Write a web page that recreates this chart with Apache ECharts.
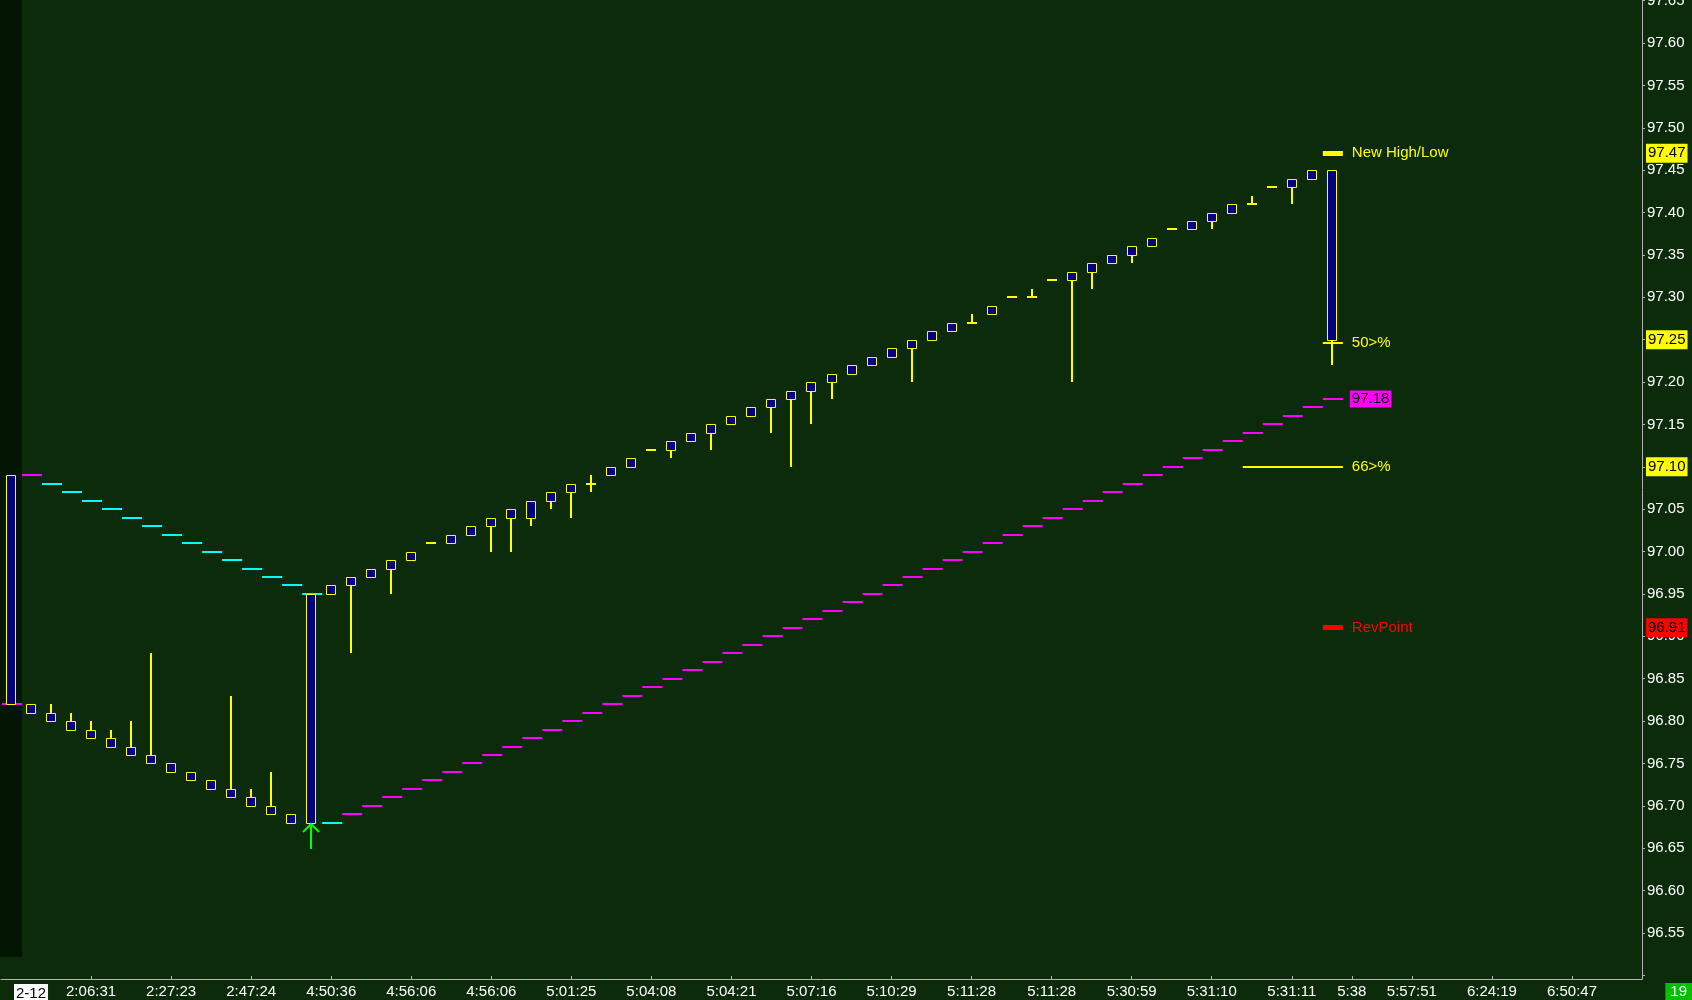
<!DOCTYPE html>
<html>
<head>
<meta charset="utf-8">
<script src="https://cdn.jsdelivr.net/npm/echarts@6/dist/echarts.min.js"></script>
<style>
html,body{margin:0;padding:0;background:#0b2b0b;overflow:hidden}
#chart{width:1692px;height:1000px}
</style>
</head>
<body>
<div id="chart"></div>
<script>
// ---------------- data ----------------
const opens = [97.09,96.82,96.81,96.80,96.79,96.78,96.77,96.76,96.75,96.74,96.73,96.72,96.71,96.70,96.69,96.68,
  96.95,96.96,96.97,96.98,96.99,97.01,97.01,97.02,97.03,97.04,97.04,97.06,97.07,97.08,97.09,97.10,97.12,97.12,
  97.13,97.14,97.15,97.16,97.17,97.18,97.19,97.20,97.21,97.22,97.23,97.24,97.25,97.26,97.27,97.28,97.30,97.30,
  97.32,97.32,97.33,97.34,97.35,97.36,97.38,97.38,97.39,97.40,97.41,97.43,97.43,97.44,97.45];
const closes = [96.82,96.81,96.80,96.79,96.78,96.77,96.76,96.75,96.74,96.73,96.72,96.71,96.70,96.69,96.68,96.95,
  96.96,96.97,96.98,96.99,97.00,97.01,97.02,97.03,97.04,97.05,97.06,97.07,97.08,97.08,97.10,97.11,97.12,97.13,
  97.14,97.15,97.16,97.17,97.18,97.19,97.20,97.21,97.22,97.23,97.24,97.25,97.26,97.27,97.27,97.29,97.30,97.30,
  97.32,97.33,97.34,97.35,97.36,97.37,97.38,97.39,97.40,97.41,97.41,97.43,97.44,97.45,97.25];
const lows = [96.82,96.81,96.80,96.79,96.78,96.77,96.76,96.75,96.74,96.73,96.72,96.71,96.70,96.69,96.68,96.68,
  96.95,96.88,96.97,96.95,96.99,97.01,97.01,97.02,97.00,97.00,97.03,97.05,97.04,97.07,97.09,97.10,97.12,97.11,
  97.13,97.12,97.15,97.16,97.14,97.10,97.15,97.18,97.21,97.22,97.23,97.20,97.25,97.26,97.27,97.28,97.30,97.30,
  97.32,97.20,97.31,97.34,97.34,97.36,97.38,97.38,97.38,97.40,97.41,97.43,97.41,97.44,97.22];
const highs = [97.09,96.82,96.82,96.81,96.80,96.79,96.80,96.88,96.75,96.74,96.73,96.83,96.72,96.74,96.69,96.95,
  96.96,96.97,96.98,96.99,97.00,97.01,97.02,97.03,97.04,97.05,97.06,97.07,97.08,97.09,97.10,97.11,97.12,97.13,
  97.14,97.15,97.16,97.17,97.18,97.19,97.20,97.21,97.22,97.23,97.24,97.25,97.26,97.27,97.28,97.29,97.30,97.31,
  97.32,97.33,97.34,97.35,97.36,97.37,97.38,97.39,97.40,97.41,97.42,97.43,97.44,97.45,97.45];

// trailing stop (one dash per bar)
const trailValues = [96.82,97.09,97.08,97.07,97.06,97.05,97.04,97.03,97.02,97.01,97.00,96.99,96.98,96.97,96.96,96.95,
  96.68,96.69,96.70,96.71,96.72,96.73,96.74,96.75,96.76,96.77,96.78,96.79,96.80,96.81,96.82,96.83,96.84,96.85,
  96.86,96.87,96.88,96.89,96.90,96.91,96.92,96.93,96.94,96.95,96.96,96.97,96.98,96.99,97.00,97.01,97.02,97.03,
  97.04,97.05,97.06,97.07,97.08,97.09,97.10,97.11,97.12,97.13,97.14,97.15,97.16,97.17,97.18];
const trailSide = ['S','S','R','R','R','R','R','R','R','R','R','R','R','R','R','R','R',
  'S','S','S','S','S','S','S','S','S','S','S','S','S','S','S','S','S','S','S','S','S','S','S','S','S','S','S',
  'S','S','S','S','S','S','S','S','S','S','S','S','S','S','S','S','S','S','S','S','S','S','S'];

// x axis: bar slots and time labels
const slotCount = 82;
const tickSlots  = [0,4,8,12,16,20,24,28,32,36,40,44,48,52,56,60,64,67,70,74,78];
const tickLabels = ['2-12','2:06:31','2:27:23','2:47:24','4:50:36','4:56:06','4:56:06','5:01:25','5:04:08',
  '5:04:21','5:07:16','5:10:29','5:11:28','5:11:28','5:30:59','5:31:10','5:31:11','5:38','5:57:51','6:24:19','6:50:47'];

// price levels drawn at the right edge
const levelNames  = ['New High/Low','50>%','66>%','RevPoint'];
const levelValues = [97.47, 97.246, 97.10, 96.91];
const levelFrom   = [66, 66, 62, 66];
const levelTo     = [66, 66, 66, 66];

// highlighted price labels on the axis
const axisMarkValues = [97.47, 97.25, 97.10, 96.91];

// reversal signal arrow
const signalSlots  = [15];
const signalValues = [96.68];

// ---------------- styles ----------------
const FONT = "'Liberation Sans', Arial, sans-serif";
const YELLOW = '#ffff00', NAVY = '#000080', MAGENTA = '#ff00ff', CYAN = '#00ffff', RED = '#ff0000', GREEN = '#00ff00';
const AXIS = '#b4b4b4';
const levelStyle = [
  {color: YELLOW, width: 5},
  {color: YELLOW, width: 2},
  {color: YELLOW, width: 2},
  {color: RED, width: 5}
];
const axisMarkBg = [YELLOW, YELLOW, YELLOW, RED];

const slotNames = Array.from({length: slotCount}, (_, i) => String(i));
const labelAt = {};
tickSlots.forEach((s, i) => { labelAt[s] = tickLabels[i]; });

function renderCandle(params, api) {
  const x = api.value(0);
  const o = api.value(1), c = api.value(2), l = api.value(3), h = api.value(4);
  const pO = api.coord([x, o]), pC = api.coord([x, c]);
  const pL = api.coord([x, l]), pH = api.coord([x, h]);
  const cx = Math.round(pO[0]);
  const children = [];
  if (h !== l) {
    children.push({type: 'line', shape: {x1: cx, y1: Math.round(pH[1]), x2: cx, y2: Math.round(pL[1])},
      style: {stroke: YELLOW, lineWidth: 2}});
  }
  if (o === c) {
    const y = Math.round(pO[1]);
    children.push({type: 'line', shape: {x1: cx - 5, y1: y, x2: cx + 5, y2: y},
      style: {stroke: YELLOW, lineWidth: 2}});
  } else {
    const top = Math.round(Math.min(pO[1], pC[1])), bot = Math.round(Math.max(pO[1], pC[1]));
    children.push({type: 'rect', shape: {x: cx - 5 + 0.5, y: top + 0.5, width: 9, height: bot - top},
      style: {fill: NAVY, stroke: YELLOW, lineWidth: 1}});
  }
  return {type: 'group', children: children};
}

function renderTrail(params, api) {
  const x = api.value(0), v = api.value(1), side = api.value(2);
  const p = api.coord([x, v]);
  const bw = api.size([1, 0])[0];
  const color = side === 1 ? MAGENTA : CYAN;
  const y = Math.round(p[1]);
  const children = [{type: 'line', shape: {x1: p[0] - bw / 2 + 1, y1: y, x2: p[0] + bw / 2 + 1, y2: y},
    style: {stroke: color, lineWidth: 2}}];
  if (params.dataIndex === trailValues.length - 1) {
    children.push({type: 'text', x: p[0] + bw / 2 + 8, y: p[1],
      style: {text: v.toFixed(2), fill: '#000000', backgroundColor: MAGENTA, padding: [2, 2, 0, 2],
        font: '15px ' + FONT, align: 'left', verticalAlign: 'middle'}});
  }
  return {type: 'group', children: children};
}

function renderLevel(params, api) {
  const from = api.value(0), to = api.value(1), v = api.value(2), k = api.value(3);
  const bw = api.size([1, 0])[0];
  const p1 = api.coord([from, v]), p2 = api.coord([to, v]);
  const x1 = p1[0] - bw / 2 + 1, x2 = p2[0] + bw / 2 + 1;
  const st = levelStyle[k];
  return {type: 'group', children: [
    {type: 'rect', shape: {x: x1, y: Math.round(p1[1] - st.width / 2), width: x2 - x1, height: st.width},
      style: {fill: st.color}},
    {type: 'text', x: x2 + 9, y: p1[1],
      style: {text: levelNames[k], fill: st.color, font: '15px ' + FONT, align: 'left', verticalAlign: 'middle'}}
  ]};
}

function renderSignal(params, api) {
  const p = api.coord([api.value(0), api.value(1)]);
  const x = Math.round(p[0]), y = Math.round(p[1]) + 1;
  return {type: 'group', children: [
    {type: 'line', shape: {x1: x, y1: y, x2: x, y2: y + 25}, style: {stroke: GREEN, lineWidth: 2}},
    {type: 'polyline', shape: {points: [[x - 8, y + 8], [x, y], [x + 8, y + 8]]},
      style: {stroke: GREEN, lineWidth: 2, fill: null}}
  ]};
}

const chart = echarts.init(document.getElementById('chart'), null, {renderer: 'canvas'});
chart.setOption({
  backgroundColor: '#0b2b0b',
  animation: false,
  textStyle: {fontFamily: FONT},
  title: {
    text: '19', right: 0, bottom: 0, padding: [1, 5, 0, 5], backgroundColor: '#00c000',
    textStyle: {color: '#ffffff', fontSize: 15, fontWeight: 'normal', fontFamily: FONT, lineHeight: 16}
  },
  grid: [
    {left: 1, right: 50, top: 0.62, height: 974.74, containLabel: false, outerBoundsMode: 'none'},
    {left: 1, right: 50, top: 0, height: 979, containLabel: false, outerBoundsMode: 'none'},
    {left: 0, width: 22, top: 0, height: 957, show: true, backgroundColor: '#031603', borderWidth: 0,
      containLabel: false, outerBoundsMode: 'none', z: -1}
  ],
  xAxis: [
    {type: 'category', gridIndex: 0, data: slotNames, boundaryGap: true, show: false},
    {type: 'category', gridIndex: 1, data: slotNames, boundaryGap: true, position: 'bottom',
      axisLine: {show: true, onZero: false, lineStyle: {color: AXIS, width: 1}},
      axisTick: {show: true, inside: true, length: 3, alignWithLabel: true,
        interval: function (i) { return labelAt[i] !== undefined && i !== 0; },
        lineStyle: {color: AXIS}},
      axisLabel: {show: true, color: '#ffffff', fontSize: 15, fontFamily: FONT, margin: 5,
        interval: function (i) { return labelAt[i] !== undefined; },
        formatter: function (v) {
          const s = labelAt[Number(v)];
          if (s === undefined) return '';
          if (Number(v) === 0) return '{sp|}{d|' + s + '}';
          return s;
        },
        rich: {
          sp: {width: 40},
          d: {backgroundColor: '#ffffff', color: '#000000', padding: [2, 2, 0, 2], fontSize: 15, fontFamily: FONT}
        }},
      splitLine: {show: false}},
    {type: 'value', gridIndex: 2, min: 0, max: 1, show: false}
  ],
  yAxis: [
    {type: 'value', gridIndex: 0, position: 'right', min: 96.50, max: 97.65, interval: 0.05,
      axisLine: {show: false},
      axisTick: {show: true, length: 3, lineStyle: {color: AXIS}},
      axisLabel: {color: '#ffffff', fontSize: 15, fontFamily: FONT, margin: 5,
        formatter: function (v) { return (v < 96.52) ? '' : v.toFixed(2); }},
      splitLine: {show: false}},
    {type: 'value', gridIndex: 1, position: 'right', min: 0, max: 1,
      axisLine: {show: true, onZero: false, lineStyle: {color: AXIS, width: 1}},
      axisTick: {show: false}, axisLabel: {show: false}, splitLine: {show: false}},
    {type: 'value', gridIndex: 2, min: 0, max: 1, show: false}
  ],
  series: [
    {
      type: 'custom', name: 'Trail', xAxisIndex: 0, yAxisIndex: 0, z: 2,
      data: trailValues.map((v, i) => [i, v, trailSide[i] === 'S' ? 1 : 0]),
      encode: {x: 0, y: 1},
      renderItem: renderTrail
    },
    {
      type: 'custom', name: 'Price', xAxisIndex: 0, yAxisIndex: 0, z: 3,
      data: opens.map((o, i) => [i, o, closes[i], lows[i], highs[i]]),
      encode: {x: 0, y: [1, 2, 3, 4]},
      renderItem: renderCandle,
      markLine: {
        silent: true, symbol: 'none', animation: false,
        lineStyle: {color: 'rgba(0,0,0,0)', width: 0},
        label: {show: true, position: 'end', distance: 4, color: '#000000', fontSize: 15, fontFamily: FONT,
          padding: [2, 2, 0, 2], lineHeight: 17,
          formatter: function (p) { return Number(p.value).toFixed(2); }},
        data: axisMarkValues.map((v, i) => ({yAxis: v, label: {backgroundColor: axisMarkBg[i]}}))
      }
    },
    {
      type: 'custom', name: 'Levels', xAxisIndex: 0, yAxisIndex: 0, z: 4,
      data: levelValues.map((v, i) => [levelFrom[i], levelTo[i], v, i]),
      encode: {x: [0, 1], y: 2},
      renderItem: renderLevel
    },
    {
      type: 'custom', name: 'Signal', xAxisIndex: 0, yAxisIndex: 0, z: 4,
      data: signalSlots.map((s, i) => [s, signalValues[i]]),
      encode: {x: 0, y: 1},
      renderItem: renderSignal
    }
  ]
});
</script>
</body>
</html>
